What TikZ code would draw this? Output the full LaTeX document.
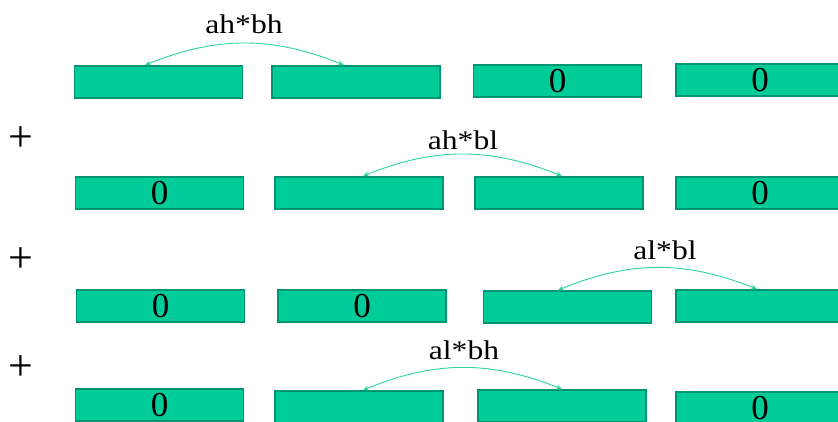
\documentclass[tikz,border=0pt]{standalone}
\usepackage{fontspec}
\setmainfont{Liberation Serif}
\usetikzlibrary{arrows.meta}
\definecolor{boxfill}{HTML}{00CC99}
\definecolor{boxline}{HTML}{009473}
\definecolor{arrcol}{HTML}{2ED3A3}
\newcommand{\widelbl}[1]{\scalebox{1.17}[1]{#1}}
\tikzset{
  cell/.style={draw=boxline, fill=boxfill, line width=1.8pt, minimum width=168pt, minimum height=32pt, inner sep=0pt, font=\fontsize{35}{35}\selectfont},
  lbl/.style={inner sep=0pt, font=\fontsize{27}{27}\selectfont},
  plus/.style={inner sep=0pt, font=\fontsize{44}{44}\selectfont},
  arr/.style={draw=arrcol, line width=0.9pt, {Stealth[length=6pt,width=5pt]}-{Stealth[length=6pt,width=5pt]}, bend left=22}
}
\begin{document}
\begin{tikzpicture}[x=1pt,y=-1pt]
\useasboundingbox (0,0) rectangle (838,421);
\begin{scope}
\clip (0,0) rectangle (838,421);
% row 1
\node[cell] (b11) at (158.5,82) {};
\node[cell] (b12) at (356,82) {};
\node[cell] (b13) at (557.5,81) {0};
\node[cell] (b14) at (760,80) {0};
% row 2
\node[cell] (b21) at (159.5,193) {0};
\node[cell] (b22) at (359,193) {};
\node[cell] (b23) at (559,193) {};
\node[cell] (b24) at (760,193) {0};
% row 3
\node[cell] (b31) at (160.5,306) {0};
\node[cell] (b32) at (362,306) {0};
\node[cell] (b33) at (567.5,307) {};
\node[cell] (b34) at (760,306) {};
% row 4
\node[cell] (b41) at (159.5,405) {0};
\node[cell] (b42) at (359,407) {};
\node[cell] (b43) at (562,406) {};
\node[cell] (b44) at (760,408) {0};
\end{scope}
% plus signs
\node[plus] (p2) at (21,139) {+};
\node[plus] (p3) at (21,260) {+};
\node[plus] (p4) at (21,368) {+};
% labels
\node[lbl] (l1) at (244,24) {\widelbl{ah*bh}};
\node[lbl] (l2) at (463,140) {\widelbl{ah*bl}};
\node[lbl] (l3) at (665,250) {\widelbl{al*bl}};
\node[lbl] (l4) at (464,350) {\widelbl{al*bh}};
% arrows
\draw[arr] ([xshift=-13.5pt]b11.north) to ([xshift=-12pt]b12.north);
\draw[arr] ([xshift=4pt]b22.north) to ([xshift=3pt]b23.north);
\draw[arr] ([xshift=-9.5pt]b33.north) to ([xshift=-3pt]b34.north);
\draw[arr] ([xshift=4pt]b42.north) to ([xshift=0pt]b43.north);
\end{tikzpicture}
\end{document}
